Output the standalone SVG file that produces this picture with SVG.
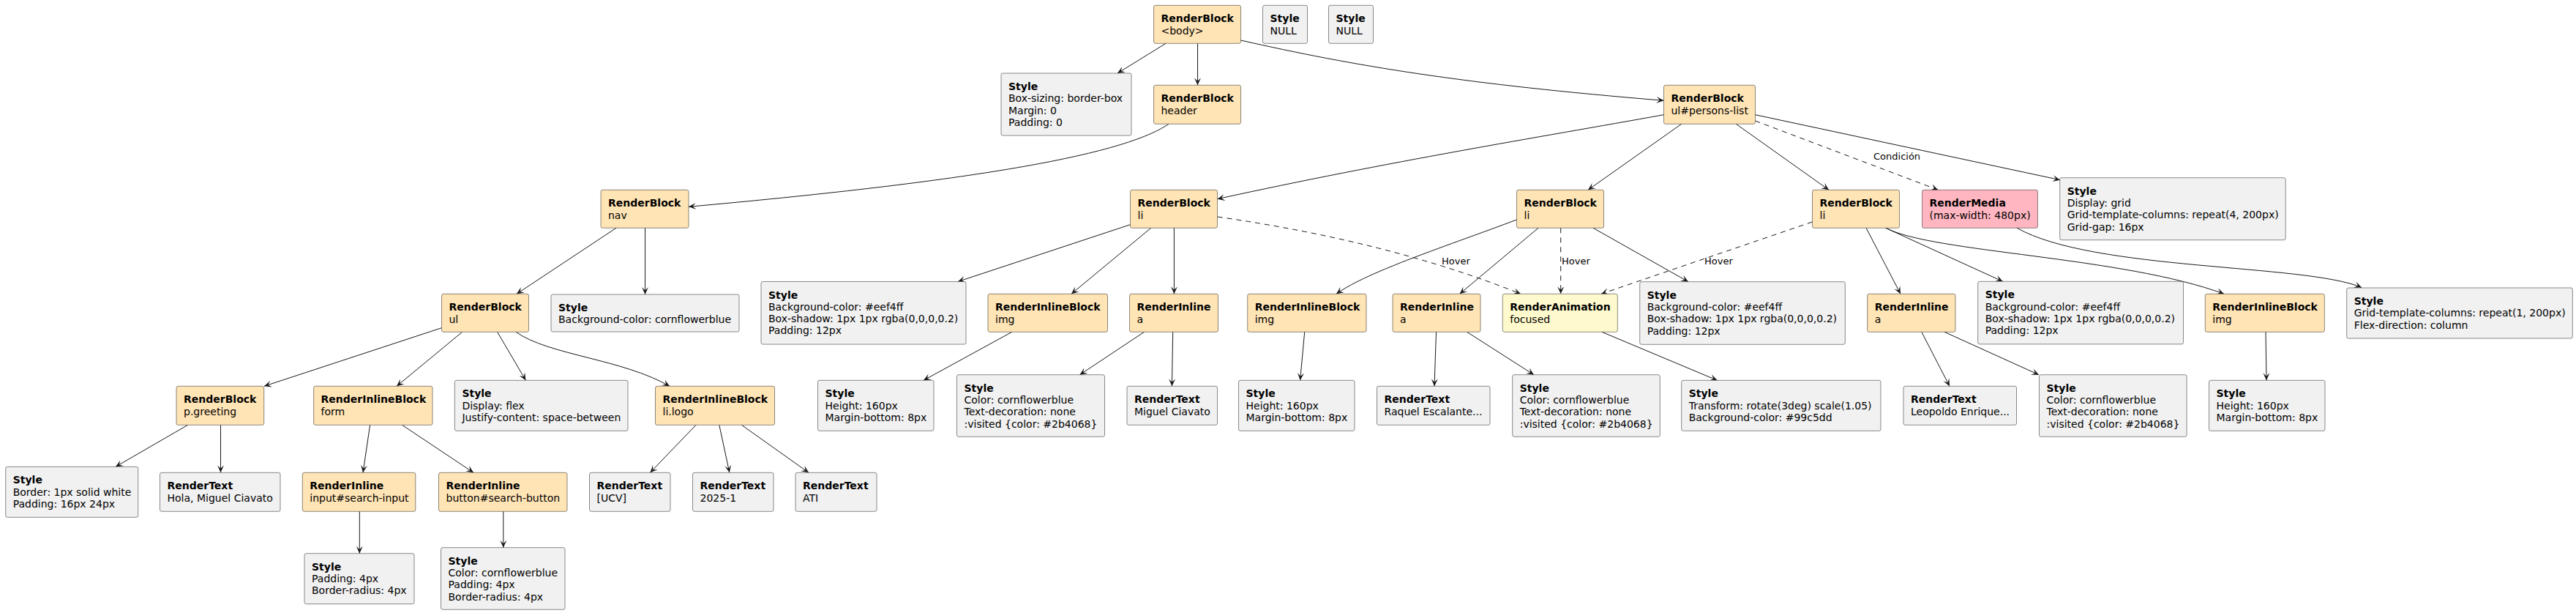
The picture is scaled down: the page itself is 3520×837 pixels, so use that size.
<svg xmlns="http://www.w3.org/2000/svg" width="3520" height="837" viewBox="0 0 3520 837">
<style>
rect.n{stroke:#181818;stroke-width:0.5}
.blk{fill:#FFE4B5}.sty{fill:#F1F1F1}.med{fill:#FFB6C1}.ani{fill:#FFFACD}
text{font-family:"DejaVu Sans","Noto Sans",sans-serif;font-size:14px;fill:#000}
text.b{font-weight:bold}
text.lbl{font-size:13px}
#edges path{fill:none;stroke:#181818;stroke-width:1;marker-end:url(#ah)}
#edges path.d{stroke-dasharray:7,6}
</style>
<defs>
<marker id="ah" viewBox="-10 -5 11 10" refX="0" refY="0" markerWidth="11" markerHeight="10" markerUnits="userSpaceOnUse" orient="auto">
<path d="M0,0 L-10,-4.5 L-5.5,0 L-10,4.5 Z" fill="#181818"/>
</marker>
</defs>
<rect width="3520" height="837" fill="#ffffff"/>
<g id="edges">
<path d="M1593,59.3 L1527,100"/>
<path d="M1636.5,59.3 L1636.5,116.3"/>
<path d="M1695.5,55 C1850,90 2000,115 2273.5,137.3"/>
<path d="M1597,169.3 C1530,215 1300,250 941,282.3"/>
<path d="M2273.5,156.7 C2100,188 1900,220 1663.5,271.7"/>
<path d="M2297.7,169.3 L2170,259.3"/>
<path d="M2372.3,169.3 L2499,259.3"/>
<path class="d" d="M2398.5,165 L2648.3,259.3"/>
<path d="M2398.5,156.7 L2815,245.7"/>
<path d="M842,311.3 L706,401.3"/>
<path d="M881.5,311.3 L881.5,402"/>
<path d="M603.5,447.7 L361,527.3"/>
<path d="M631.6,453.3 L542,527.3"/>
<path d="M679.6,453.3 L718.4,519.3"/>
<path d="M705,453.3 C750,485 850,490 915,527.3"/>
<path d="M256.6,580.3 L158,637.3"/>
<path d="M301.5,580.3 L301.5,645.3"/>
<path d="M505.6,580.3 L496,645.3"/>
<path d="M549.5,580.3 L647,645.3"/>
<path d="M491.3,698.3 L491.3,755.7"/>
<path d="M687.8,698.3 L687.8,747.7"/>
<path d="M951,580.3 L888.4,645.3"/>
<path d="M982.8,580.3 L996.8,645.3"/>
<path d="M1013.4,580.3 L1105,645.3"/>
<path d="M1544.5,306.7 L1309,384.5"/>
<path d="M1572.7,311.3 L1464,401.3"/>
<path d="M1604.4,311.3 L1604.4,401.3"/>
<path class="d" d="M1663.5,296 Q1900,330 2078,401.3"/>
<path d="M1382.7,453.3 L1262,519.3"/>
<path d="M1563.5,453.3 L1475.5,511.7"/>
<path d="M1602.7,453.3 L1601.4,527.3"/>
<path d="M2072.5,300 C1980,335 1870,370 1826,401.3"/>
<path d="M2102,311.3 L1994.6,401.3"/>
<path class="d" d="M2132.7,311.3 L2132.7,401.3"/>
<path d="M2177,311.3 L2307,384.7"/>
<path d="M1782.7,453.3 L1776.6,519.3"/>
<path d="M1962.5,453.3 L1960,527.3"/>
<path d="M2004.6,453.3 L2096,511.7"/>
<path d="M2189,453.3 L2346.5,519.3"/>
<path class="d" d="M2476.5,303 L2188,401.3"/>
<path d="M2550,311.3 L2597,401.3"/>
<path d="M2576.7,311.3 L2736.7,384.3"/>
<path d="M2577,311.3 C2640,345 2900,350 3039,401.3"/>
<path d="M2756,311.3 C2860,370 3150,360 3227,392.5"/>
<path d="M2625.8,453.3 L2664,527.3"/>
<path d="M2657,453.3 L2786,511.7"/>
<path d="M3096,453.3 L3097,519.3"/>
<text class="lbl" x="2560" y="218">Condición</text>
<text class="lbl" x="1970" y="361">Hover</text>
<text class="lbl" x="2134" y="361">Hover</text>
<text class="lbl" x="2329" y="361">Hover</text>
</g>
<g id="body"><rect class="n blk" x="1576.5" y="7.3" width="119" height="52" rx="2.5"/><text class="b" x="1586.5" y="30.3">RenderBlock</text><text x="1586.5" y="46.6">&lt;body&gt;</text></g>
<g id="nullA"><rect class="n sty" x="1725.5" y="7.3" width="61" height="52" rx="2.5"/><text class="b" x="1735.5" y="30.3">Style</text><text x="1735.5" y="46.6">NULL</text></g>
<g id="nullB"><rect class="n sty" x="1815.5" y="7.3" width="61" height="52" rx="2.5"/><text class="b" x="1825.5" y="30.3">Style</text><text x="1825.5" y="46.6">NULL</text></g>
<g id="styleBody"><rect class="n sty" x="1368" y="100" width="178" height="85" rx="2.5"/><text class="b" x="1378" y="123">Style</text><text x="1378" y="139.3">Box-sizing: border-box</text><text x="1378" y="155.6">Margin: 0</text><text x="1378" y="171.9">Padding: 0</text></g>
<g id="header"><rect class="n blk" x="1576.5" y="116.3" width="119" height="53" rx="2.5"/><text class="b" x="1586.5" y="139.3">RenderBlock</text><text x="1586.5" y="155.6">header</text></g>
<g id="persons"><rect class="n blk" x="2273.5" y="116.3" width="125" height="53" rx="2.5"/><text class="b" x="2283.5" y="139.3">RenderBlock</text><text x="2283.5" y="155.6">ul#persons-list</text></g>
<g id="nav"><rect class="n blk" x="821" y="259.3" width="120" height="52" rx="2.5"/><text class="b" x="831" y="282.3">RenderBlock</text><text x="831" y="298.6">nav</text></g>
<g id="li1"><rect class="n blk" x="1544.5" y="259.3" width="119" height="52" rx="2.5"/><text class="b" x="1554.5" y="282.3">RenderBlock</text><text x="1554.5" y="298.6">li</text></g>
<g id="li2"><rect class="n blk" x="2072.5" y="259.3" width="119" height="52" rx="2.5"/><text class="b" x="2082.5" y="282.3">RenderBlock</text><text x="2082.5" y="298.6">li</text></g>
<g id="li3"><rect class="n blk" x="2476.5" y="259.3" width="119" height="52" rx="2.5"/><text class="b" x="2486.5" y="282.3">RenderBlock</text><text x="2486.5" y="298.6">li</text></g>
<g id="media"><rect class="n med" x="2626.5" y="259.3" width="158" height="52" rx="2.5"/><text class="b" x="2636.5" y="282.3">RenderMedia</text><text x="2636.5" y="298.6">(max-width: 480px)</text></g>
<g id="styleGrid"><rect class="n sty" x="2814.7" y="242.7" width="308.5" height="85" rx="2.5"/><text class="b" x="2824.7" y="265.7">Style</text><text x="2824.7" y="282">Display: grid</text><text x="2824.7" y="298.3">Grid-template-columns: repeat(4, 200px)</text><text x="2824.7" y="314.6">Grid-gap: 16px</text></g>
<g id="styleNav"><rect class="n sty" x="753" y="402" width="257" height="51" rx="2.5"/><text class="b" x="763" y="425">Style</text><text x="763" y="441.3">Background-color: cornflowerblue</text></g>
<g id="ul"><rect class="n blk" x="603.5" y="401.3" width="119" height="52" rx="2.5"/><text class="b" x="613.5" y="424.3">RenderBlock</text><text x="613.5" y="440.6">ul</text></g>
<g id="styleLi1"><rect class="n sty" x="1040" y="384.5" width="280" height="85.6" rx="2.5"/><text class="b" x="1050" y="407.5">Style</text><text x="1050" y="423.8">Background-color: #eef4ff</text><text x="1050" y="440.1">Box-shadow: 1px 1px rgba(0,0,0,0.2)</text><text x="1050" y="456.4">Padding: 12px</text></g>
<g id="img1"><rect class="n blk" x="1350" y="401.3" width="163.5" height="52" rx="2.5"/><text class="b" x="1360" y="424.3">RenderInlineBlock</text><text x="1360" y="440.6">img</text></g>
<g id="a1"><rect class="n blk" x="1543.5" y="401.3" width="121" height="52" rx="2.5"/><text class="b" x="1553.5" y="424.3">RenderInline</text><text x="1553.5" y="440.6">a</text></g>
<g id="img2"><rect class="n blk" x="1704.7" y="401.3" width="162.3" height="52" rx="2.5"/><text class="b" x="1714.7" y="424.3">RenderInlineBlock</text><text x="1714.7" y="440.6">img</text></g>
<g id="a2"><rect class="n blk" x="1903" y="401.3" width="120" height="52" rx="2.5"/><text class="b" x="1913" y="424.3">RenderInline</text><text x="1913" y="440.6">a</text></g>
<g id="anim"><rect class="n ani" x="2053.3" y="401.3" width="157" height="52" rx="2.5"/><text class="b" x="2063.3" y="424.3">RenderAnimation</text><text x="2063.3" y="440.6">focused</text></g>
<g id="styleLi2"><rect class="n sty" x="2240.7" y="384.7" width="280.6" height="85.6" rx="2.5"/><text class="b" x="2250.7" y="407.7">Style</text><text x="2250.7" y="424">Background-color: #eef4ff</text><text x="2250.7" y="440.3">Box-shadow: 1px 1px rgba(0,0,0,0.2)</text><text x="2250.7" y="456.6">Padding: 12px</text></g>
<g id="a3"><rect class="n blk" x="2551.7" y="401.3" width="120.3" height="52" rx="2.5"/><text class="b" x="2561.7" y="424.3">RenderInline</text><text x="2561.7" y="440.6">a</text></g>
<g id="styleLi3"><rect class="n sty" x="2702.7" y="384.3" width="280.8" height="85.6" rx="2.5"/><text class="b" x="2712.7" y="407.3">Style</text><text x="2712.7" y="423.6">Background-color: #eef4ff</text><text x="2712.7" y="439.9">Box-shadow: 1px 1px rgba(0,0,0,0.2)</text><text x="2712.7" y="456.2">Padding: 12px</text></g>
<g id="img3"><rect class="n blk" x="3013.3" y="401.3" width="163" height="52" rx="2.5"/><text class="b" x="3023.3" y="424.3">RenderInlineBlock</text><text x="3023.3" y="440.6">img</text></g>
<g id="styleMedia"><rect class="n sty" x="3206.7" y="393" width="308.6" height="69" rx="2.5"/><text class="b" x="3216.7" y="416">Style</text><text x="3216.7" y="432.3">Grid-template-columns: repeat(1, 200px)</text><text x="3216.7" y="448.6">Flex-direction: column</text></g>
<g id="pgreet"><rect class="n blk" x="241" y="527.3" width="119.7" height="53" rx="2.5"/><text class="b" x="251" y="550.3">RenderBlock</text><text x="251" y="566.6">p.greeting</text></g>
<g id="form"><rect class="n blk" x="428.6" y="527.3" width="162.4" height="53" rx="2.5"/><text class="b" x="438.6" y="550.3">RenderInlineBlock</text><text x="438.6" y="566.6">form</text></g>
<g id="styleUl"><rect class="n sty" x="621.4" y="519.3" width="236.6" height="69" rx="2.5"/><text class="b" x="631.4" y="542.3">Style</text><text x="631.4" y="558.6">Display: flex</text><text x="631.4" y="574.9">Justify-content: space-between</text></g>
<g id="logo"><rect class="n blk" x="895.5" y="527.3" width="163" height="53" rx="2.5"/><text class="b" x="905.5" y="550.3">RenderInlineBlock</text><text x="905.5" y="566.6">li.logo</text></g>
<g id="styleImg1"><rect class="n sty" x="1117.5" y="519.3" width="158.5" height="69" rx="2.5"/><text class="b" x="1127.5" y="542.3">Style</text><text x="1127.5" y="558.6">Height: 160px</text><text x="1127.5" y="574.9">Margin-bottom: 8px</text></g>
<g id="styleA1"><rect class="n sty" x="1307.5" y="511.7" width="202" height="84.6" rx="2.5"/><text class="b" x="1317.5" y="534.7">Style</text><text x="1317.5" y="551">Color: cornflowerblue</text><text x="1317.5" y="567.3">Text-decoration: none</text><text x="1317.5" y="583.6">:visited {color: #2b4068}</text></g>
<g id="textMiguel"><rect class="n sty" x="1540" y="527.3" width="123.5" height="53" rx="2.5"/><text class="b" x="1550" y="550.3">RenderText</text><text x="1550" y="566.6">Miguel Ciavato</text></g>
<g id="styleImg2"><rect class="n sty" x="1692.5" y="519.3" width="158.5" height="69" rx="2.5"/><text class="b" x="1702.5" y="542.3">Style</text><text x="1702.5" y="558.6">Height: 160px</text><text x="1702.5" y="574.9">Margin-bottom: 8px</text></g>
<g id="textRaquel"><rect class="n sty" x="1881.5" y="527.3" width="154.5" height="53" rx="2.5"/><text class="b" x="1891.5" y="550.3">RenderText</text><text x="1891.5" y="566.6">Raquel Escalante...</text></g>
<g id="styleA2"><rect class="n sty" x="2066.7" y="511.7" width="201.6" height="84.6" rx="2.5"/><text class="b" x="2076.7" y="534.7">Style</text><text x="2076.7" y="551">Color: cornflowerblue</text><text x="2076.7" y="567.3">Text-decoration: none</text><text x="2076.7" y="583.6">:visited {color: #2b4068}</text></g>
<g id="styleAnim"><rect class="n sty" x="2297.7" y="519.3" width="272.3" height="69" rx="2.5"/><text class="b" x="2307.7" y="542.3">Style</text><text x="2307.7" y="558.6">Transform: rotate(3deg) scale(1.05)</text><text x="2307.7" y="574.9">Background-color: #99c5dd</text></g>
<g id="textLeo"><rect class="n sty" x="2601" y="527.3" width="154.5" height="53" rx="2.5"/><text class="b" x="2611" y="550.3">RenderText</text><text x="2611" y="566.6">Leopoldo Enrique...</text></g>
<g id="styleA3"><rect class="n sty" x="2786.5" y="511.7" width="201.6" height="84.6" rx="2.5"/><text class="b" x="2796.5" y="534.7">Style</text><text x="2796.5" y="551">Color: cornflowerblue</text><text x="2796.5" y="567.3">Text-decoration: none</text><text x="2796.5" y="583.6">:visited {color: #2b4068}</text></g>
<g id="styleImg3"><rect class="n sty" x="3018.5" y="519.3" width="158.5" height="69" rx="2.5"/><text class="b" x="3028.5" y="542.3">Style</text><text x="3028.5" y="558.6">Height: 160px</text><text x="3028.5" y="574.9">Margin-bottom: 8px</text></g>
<g id="styleP"><rect class="n sty" x="7.7" y="637.3" width="181" height="69" rx="2.5"/><text class="b" x="17.7" y="660.3">Style</text><text x="17.7" y="676.6">Border: 1px solid white</text><text x="17.7" y="692.9">Padding: 16px 24px</text></g>
<g id="textHola"><rect class="n sty" x="218.5" y="645.3" width="164.5" height="53" rx="2.5"/><text class="b" x="228.5" y="668.3">RenderText</text><text x="228.5" y="684.6">Hola, Miguel Ciavato</text></g>
<g id="input"><rect class="n blk" x="413.3" y="645.3" width="154.5" height="53" rx="2.5"/><text class="b" x="423.3" y="668.3">RenderInline</text><text x="423.3" y="684.6">input#search-input</text></g>
<g id="button"><rect class="n blk" x="599.5" y="645.3" width="175.5" height="53" rx="2.5"/><text class="b" x="609.5" y="668.3">RenderInline</text><text x="609.5" y="684.6">button#search-button</text></g>
<g id="textUCV"><rect class="n sty" x="805.5" y="645.3" width="110.5" height="53" rx="2.5"/><text class="b" x="815.5" y="668.3">RenderText</text><text x="815.5" y="684.6">[UCV]</text></g>
<g id="text2025"><rect class="n sty" x="946.5" y="645.3" width="110.5" height="53" rx="2.5"/><text class="b" x="956.5" y="668.3">RenderText</text><text x="956.5" y="684.6">2025-1</text></g>
<g id="textATI"><rect class="n sty" x="1087" y="645.3" width="111" height="53" rx="2.5"/><text class="b" x="1097" y="668.3">RenderText</text><text x="1097" y="684.6">ATI</text></g>
<g id="styleInput"><rect class="n sty" x="416" y="755.7" width="150" height="69" rx="2.5"/><text class="b" x="426" y="778.7">Style</text><text x="426" y="795">Padding: 4px</text><text x="426" y="811.3">Border-radius: 4px</text></g>
<g id="styleButton"><rect class="n sty" x="602.5" y="747.7" width="169.5" height="84.6" rx="2.5"/><text class="b" x="612.5" y="770.7">Style</text><text x="612.5" y="787">Color: cornflowerblue</text><text x="612.5" y="803.3">Padding: 4px</text><text x="612.5" y="819.6">Border-radius: 4px</text></g>
</svg>
